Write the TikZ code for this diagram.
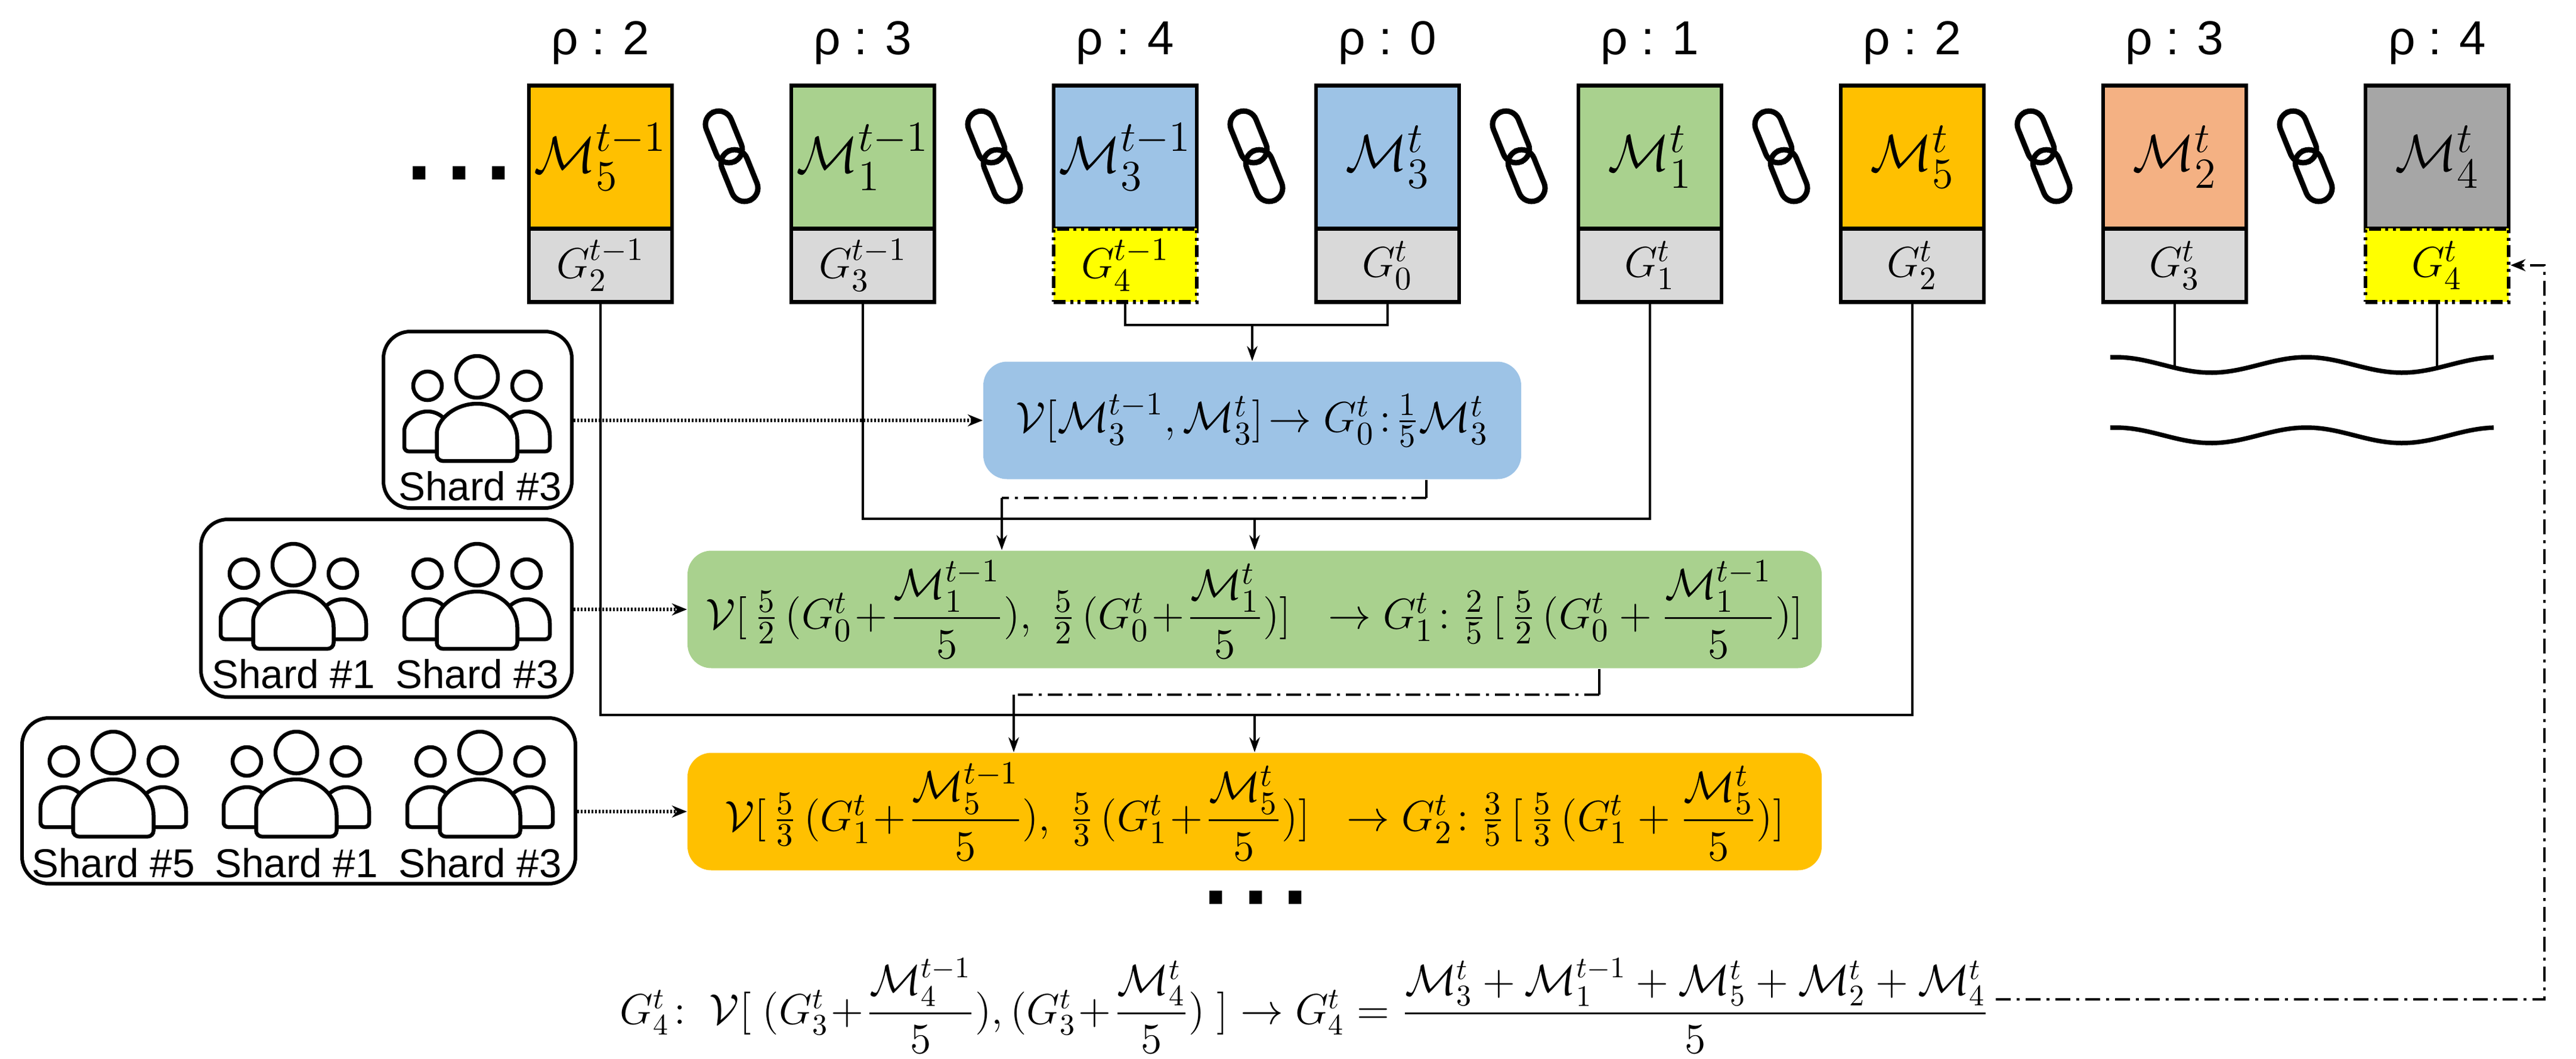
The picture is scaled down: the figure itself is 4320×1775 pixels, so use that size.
\documentclass[tikz,border=0pt]{standalone}
\usepackage{amsmath}
\usepackage{fontspec}
\setmainfont{Liberation Sans}
\usetikzlibrary{arrows.meta}
\definecolor{corange}{HTML}{FFC000}
\definecolor{cgreen}{HTML}{A9D18E}
\definecolor{cblue}{HTML}{9DC3E6}
\definecolor{csalmon}{HTML}{F4B183}
\definecolor{cgray}{HTML}{A6A6A6}
\definecolor{lgray}{HTML}{D9D9D9}
\definecolor{cyel}{HTML}{FFFF00}
\tikzset{
 mbox/.style={draw, line width=1.3pt, minimum width=48pt, minimum height=48pt, inner sep=0pt, anchor=north, font=\fontsize{19}{22}\selectfont},
 gbox/.style={draw, line width=1.3pt, fill=lgray, minimum width=48pt, minimum height=24.6pt, inner sep=0pt, anchor=north, font=\fontsize{15}{18}\selectfont},
 ybox/.style={gbox, fill=cyel, dash pattern=on 4pt off 1.5pt on 1pt off 1.5pt on 1pt off 1.5pt},
 rho/.style={font=\fontsize{16}{20}\selectfont},
 eq/.style={rounded corners=8pt, inner sep=0pt, font=\fontsize{15}{18}\selectfont},
 shard/.style={draw, line width=1.2pt, rounded corners=9pt},
 stxt/.style={font=\fontsize{13.5}{16}\selectfont, inner sep=0pt},
 conn/.style={line width=0.8pt},
 arr/.style={line width=0.8pt, -{Stealth[length=5pt,width=3.5pt]}},
 dd/.style={line width=0.9pt, dash pattern=on 5pt off 2pt on 1pt off 2pt},
 dot/.style={line width=1.2pt, dash pattern=on 0.6pt off 0.6pt, -{Stealth[length=5pt,width=4pt]}},
 link/.pic={
   \draw[line width=1.8pt, rotate=22, rounded corners=4.5pt] (-4.5pt,-2pt) rectangle (4.5pt,16pt);
   \draw[line width=1.8pt, rotate=22, rounded corners=4.5pt] (-4.5pt,-16pt) rectangle (4.5pt,2pt);
 },
 people/.pic={
   \draw[line width=1.3pt, fill=white] (0pt,13.6pt) circle[radius=7pt];
   \draw[line width=1.3pt, fill=white] (-16.6pt,10.6pt) circle[radius=4.8pt];
   \draw[line width=1.3pt, fill=white] (16.6pt,10.6pt) circle[radius=4.8pt];
   \draw[line width=1.3pt, fill=white, rounded corners=1.5pt] (-24.4pt,-11.4pt) -- (-24.4pt,-6pt) [sharp corners] arc[start angle=180,end angle=0,x radius=7.8pt,y radius=8pt] [rounded corners=1.5pt] -- (-8.8pt,-11.4pt) -- cycle;
   \draw[line width=1.3pt, fill=white, rounded corners=1.5pt] (8.8pt,-11.4pt) -- (8.8pt,-6pt) [sharp corners] arc[start angle=180,end angle=0,x radius=7.8pt,y radius=8pt] [rounded corners=1.5pt] -- (24.4pt,-11.4pt) -- cycle;
   \draw[line width=1.3pt, fill=white, rounded corners=2pt] (-13.5pt,-14.6pt) -- (-13.5pt,-7.4pt) [sharp corners] arc[start angle=180,end angle=0,x radius=13.5pt,y radius=12pt] [rounded corners=2pt] -- (13.5pt,-14.6pt) -- cycle;
 }
}
\begin{document}
\begin{tikzpicture}[x=0.2pt,y=-0.2pt]
\useasboundingbox (0,0) rectangle (4320,1775);
% top boxes
\foreach \i/\c/\r in {1/1007/2,2/1447/3,3/1887/4,4/2327/0,5/2767/1,6/3207/2,7/3647/3,8/4087/4}
  {\node[rho] (r\i) at (\c,72) {ρ : \r};}
\node[mbox, fill=corange] (m1) at (1007,140) {$\mathcal{M}_5^{t-1}$};
\node[mbox, fill=cgreen]  (m2) at (1447,140) {$\mathcal{M}_1^{t-1}$};
\node[mbox, fill=cblue]   (m3) at (1887,140) {$\mathcal{M}_3^{t-1}$};
\node[mbox, fill=cblue]   (m4) at (2327,140) {$\mathcal{M}_3^{t}$};
\node[mbox, fill=cgreen]  (m5) at (2767,140) {$\mathcal{M}_1^{t}$};
\node[mbox, fill=corange] (m6) at (3207,140) {$\mathcal{M}_5^{t}$};
\node[mbox, fill=csalmon] (m7) at (3647,140) {$\mathcal{M}_2^{t}$};
\node[mbox, fill=cgray]   (m8) at (4087,140) {$\mathcal{M}_4^{t}$};
\node[gbox] (g1) at (1007,380) {$G_2^{t-1}$};
\node[gbox] (g2) at (1447,380) {$G_3^{t-1}$};
\node[ybox] (g3) at (1887,380) {$G_4^{t-1}$};
\node[gbox] (g4) at (2327,380) {$G_0^{t}$};
\node[gbox] (g5) at (2767,380) {$G_1^{t}$};
\node[gbox] (g6) at (3207,380) {$G_2^{t}$};
\node[gbox] (g7) at (3647,380) {$G_3^{t}$};
\node[ybox] (g8) at (4087,380) {$G_4^{t}$};
\foreach \x in {1227,1667,2107,2547,2987,3427,3867} \pic at (\x,262) {link};
\node (dots1) at (770,290) {\fontsize{30}{30}\selectfont\textbf{.\,.\,.}};
% equation boxes
\node[eq, fill=cblue, minimum width=180.4pt, minimum height=39.4pt] (blue) at (2100,705)
  {$\mathcal{V}[\mathcal{M}_3^{t-1},\mathcal{M}_3^{t}]\!\rightarrow G_0^{t}\!:\!\tfrac{1}{5}\mathcal{M}_3^{t}$};
\node[eq, fill=cgreen, minimum width=380.4pt, minimum height=39.4pt] (green) at (2104,1022)
  {$\mathcal{V}[\,\tfrac{5}{2}\,(G_0^t\!+\!\dfrac{\mathcal{M}_1^{t-1}}{5}),\ \tfrac{5}{2}\,(G_0^t\!+\!\dfrac{\mathcal{M}_1^{t}}{5})]\ \ \rightarrow G_1^t\!:\tfrac{2}{5}\,[\,\tfrac{5}{2}\,(G_0^t+\dfrac{\mathcal{M}_1^{t-1}}{5})]$};
\node[eq, fill=corange, minimum width=380.4pt, minimum height=39.4pt] (orange) at (2104,1361)
  {$\mathcal{V}[\,\tfrac{5}{3}\,(G_1^t\!+\!\dfrac{\mathcal{M}_5^{t-1}}{5}),\ \tfrac{5}{3}\,(G_1^t\!+\!\dfrac{\mathcal{M}_5^{t}}{5})]\ \ \rightarrow G_2^t\!:\tfrac{3}{5}\,[\,\tfrac{5}{3}\,(G_1^t+\dfrac{\mathcal{M}_5^{t}}{5})]$};
\node (dots2) at (2106,1505) {\fontsize{30}{30}\selectfont\textbf{.\,.\,.}};
\node[font=\fontsize{14}{17}\selectfont, inner sep=2pt] (form) at (2188,1687)
  {$G_4^t\!:\ \mathcal{V}[\ (G_3^t\!+\!\dfrac{\mathcal{M}_4^{t-1}}{5}),(G_3^t\!+\!\dfrac{\mathcal{M}_4^{t}}{5})\ ]\rightarrow G_4^t=\dfrac{\mathcal{M}_3^t+\mathcal{M}_1^{t-1}+\mathcal{M}_5^t+\mathcal{M}_2^t+\mathcal{M}_4^t}{5}$};
% shard boxes
\node[shard, minimum width=63.2pt, minimum height=59.2pt] (s1) at (801,704) {};
\node[shard, minimum width=124.4pt, minimum height=59.6pt] (s2) at (648,1020) {};
\node[shard, minimum width=185.6pt, minimum height=55.6pt] (s3) at (501,1343) {};
\pic at (800,700) {people};
\pic at (492,1015) {people};
\pic at (800,1015) {people};
\pic at (190,1330) {people};
\pic at (497,1330) {people};
\pic at (805,1330) {people};
\node[stxt] (t1) at (805,815) {Shard \#3};
\node[stxt] (t2) at (492,1130) {Shard \#1};
\node[stxt] (t3) at (800,1130) {Shard \#3};
\node[stxt] (t4) at (190,1447) {Shard \#5};
\node[stxt] (t5) at (497,1447) {Shard \#1};
\node[stxt] (t6) at (805,1447) {Shard \#3};
\draw[dot] (s1.east |- blue.west) -- (blue.west);
\draw[dot] (s2.east |- green.west) -- (green.west);
\draw[dot] (s3.east |- orange.west) -- (orange.west);
% connectors
\coordinate (j1) at (2100,545);
\coordinate (j2) at (2104,870);
\coordinate (j3) at (2104,1199);
\draw[conn] (g3.south) |- (j1) -| (g4.south);
\draw[arr] (j1) -- (blue.north);
\draw[conn] (g2.south) |- (j2) -| (g5.south);
\draw[arr] (j2) -- (green.north);
\draw[conn] (g1.south) |- (j3) -| (g6.south);
\draw[arr] (j3) -- (orange.north);
\coordinate (d1) at (2392,835);
\coordinate (d2) at (1680,835);
\coordinate (d3) at (2682,1165);
\coordinate (d4) at (1700,1165);
\draw[conn] (blue.south -| d1) -- (d1);
\draw[dd] (d1) -- (d2);
\draw[arr] (d2) -- (d2 |- green.north);
\draw[conn] (green.south -| d3) -- (d3);
\draw[dd] (d3) -- (d4);
\draw[arr] (d4) -- (d4 |- orange.north);
% waves
\draw[line width=1.5pt] plot[domain=3539:4182, samples=80] (\x,{612+13*sin(1.125*(\x-3539)-100)});
\draw[line width=1.5pt] plot[domain=3539:4182, samples=80] (\x,{730+13*sin(1.125*(\x-3539)-100)});
\coordinate (w1) at (3647,{612+13*sin(1.125*(3647-3539)-100)});
\coordinate (w2) at (4087,{612+13*sin(1.125*(4087-3539)-100)});
\draw[conn] (g7.south) -- (w1);
\draw[conn] (g8.south) -- (w2);
% return arrow
\coordinate (rr) at (4267,1676);
\draw[dd, -{Stealth[length=5pt,width=4pt]}] (form.east |- rr) -- (rr) |- (g8.east);
\end{tikzpicture}
\end{document}
